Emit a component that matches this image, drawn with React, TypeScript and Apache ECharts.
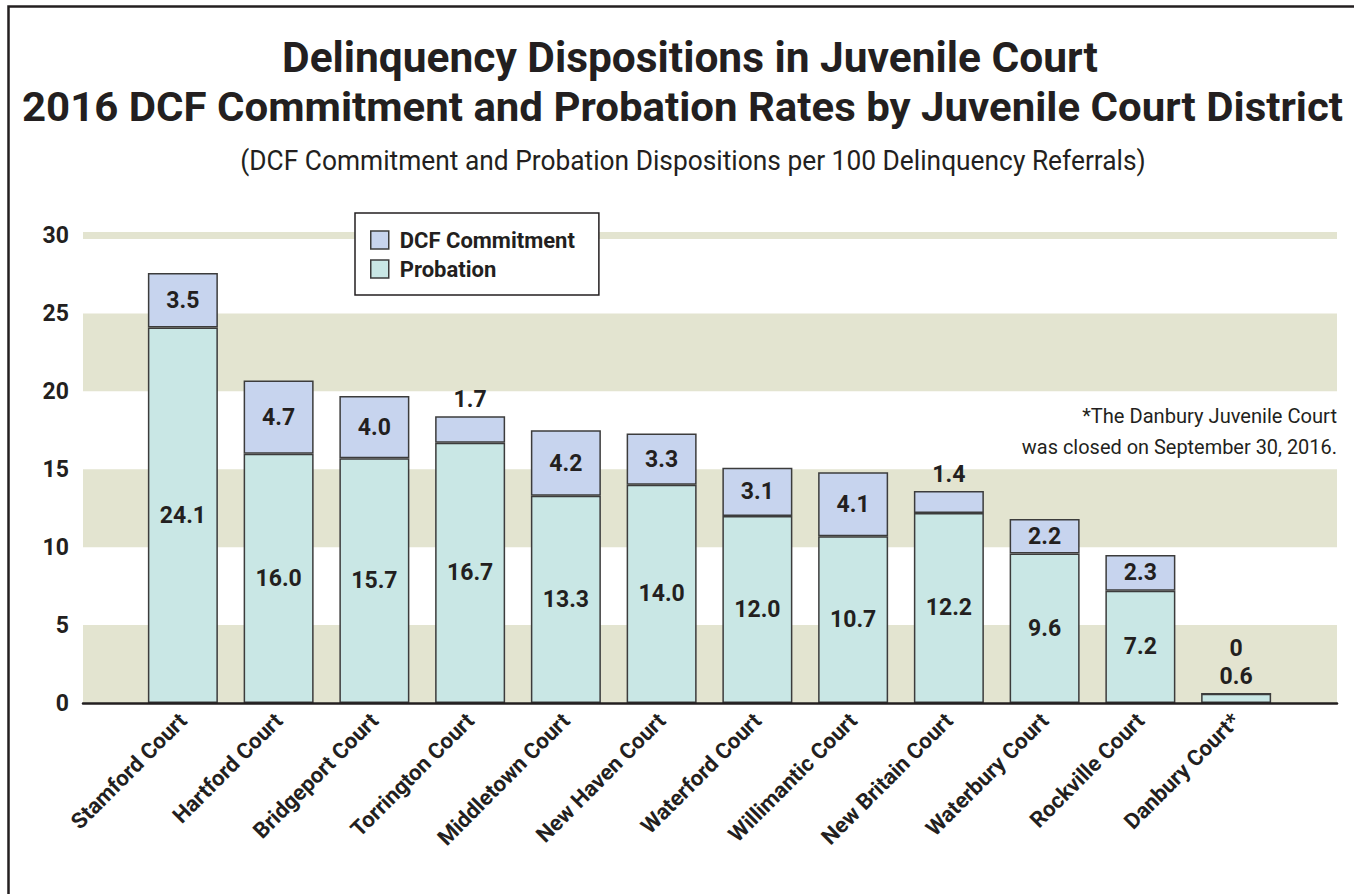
import React, { useEffect, useRef } from 'react';
import * as echarts from 'echarts';

const categories = [
  'Stamford Court', 'Hartford Court', 'Bridgeport Court', 'Torrington Court',
  'Middletown Court', 'New Haven Court', 'Waterford Court', 'Willimantic Court',
  'New Britain Court', 'Waterbury Court', 'Rockville Court', 'Danbury Court*',
];
const probation = [24.1, 16.0, 15.7, 16.7, 13.3, 14.0, 12.0, 10.7, 12.2, 9.6, 7.2, 0.6];
const dcfCommitment = [3.5, 4.7, 4.0, 1.7, 4.2, 3.3, 3.1, 4.1, 1.4, 2.2, 2.3, 0];
const seriesNames = ['DCF Commitment', 'Probation'];
const titleLine1 = 'Delinquency Dispositions in Juvenile Court';
const titleLine2 = '2016 DCF Commitment and Probation Rates by Juvenile Court District';
const subtitle = '(DCF Commitment and Probation Dispositions per 100 Delinquency Referrals)';
const noteLines = ['*The Danbury Juvenile Court', 'was closed on September 30, 2016.'];

const FONT = 'Roboto, "Noto Sans", sans-serif';
const TEXT = '#231f20';
const BAND = '#e3e4d0';
const DCF_COLOR = '#c7d4ee';
const PROB_COLOR = '#c9e7e5';
const EDGE = '#3c3c3c';

function fitScale(text: string, font: string, target: number): number {
  const ctx = document.createElement('canvas').getContext('2d');
  if (!ctx) return 1;
  ctx.font = font;
  const w = ctx.measureText(text).width;
  return w > 0 ? target / w : 1;
}

function fmt(p: any) {
  const v = Number(p.value);
  return v === 0 ? '0' : v.toFixed(1);
}

function textEl(text: string, font: string, x: number, y: number, align: string, target: number) {
  return {
    type: 'text',
    x,
    y,
    scaleX: fitScale(text, font, target),
    silent: true,
    style: {
      text,
      font,
      fill: TEXT,
      align,
      textAlign: align,
      verticalAlign: 'middle',
      textVerticalAlign: 'middle',
    },
  };
}

export default function App() {
  const ref = useRef<HTMLDivElement>(null);

  useEffect(() => {
    document.body.style.margin = '0';
    if (!ref.current) return;
    const chart = echarts.init(ref.current, null, { renderer: 'svg' });

    const probData = probation.map((v) => ({
      value: v,
      label: v < 2 ? { position: 'top', distance: 6 } : undefined,
    }));
    const dcfData = dcfCommitment.map((v) => ({
      value: v,
      label: v < 2 ? { position: 'top', distance: v === 0 ? 33 : 5 } : undefined,
    }));

    const labelStyle = {
      show: true,
      position: 'inside',
      formatter: fmt,
      fontSize: 23,
      fontWeight: 'bold',
      fontFamily: FONT,
      color: TEXT,
    };

    const t1Font = 'bold 42px Roboto';
    const t2Font = 'bold 41px Roboto';
    const subFont = '27px Roboto';
    const noteFont = '20px Roboto';

    const option: any = {
      animation: false,
      backgroundColor: '#ffffff',
      textStyle: { fontFamily: FONT },
      grid: [
        { left: 83, right: 17, top: 235.5, bottom: 191 },
        { left: 135, right: 70, top: 235.5, bottom: 191 },
      ],
      xAxis: [
        {
          gridIndex: 0, type: 'value', min: 0, max: 1, z: 5,
          axisLine: { show: true, onZero: false, lineStyle: { color: TEXT, width: 2.5 } },
          axisTick: { show: false }, axisLabel: { show: false }, splitLine: { show: false },
        },
        {
          gridIndex: 1, type: 'category', data: categories,
          axisLine: { show: false }, axisTick: { show: false },
          axisLabel: {
            rotate: 45, interval: 0, margin: 14, fontSize: 22, fontWeight: 'bold',
            color: TEXT, fontFamily: FONT,
          },
        },
      ],
      yAxis: [
        {
          gridIndex: 0, type: 'value', min: 0, max: 30, interval: 5,
          axisLine: { show: false }, axisTick: { show: false },
          axisLabel: { margin: 14, fontSize: 23, fontWeight: 'bold', color: TEXT, fontFamily: FONT },
          splitLine: {
            show: true,
            lineStyle: {
              color: ['rgba(0,0,0,0)', 'rgba(0,0,0,0)', 'rgba(0,0,0,0)', 'rgba(0,0,0,0)', 'rgba(0,0,0,0)', 'rgba(0,0,0,0)', BAND],
              width: 7,
            },
          },
          splitArea: { show: true, areaStyle: { color: [BAND, 'rgba(0,0,0,0)'] } },
        },
        { gridIndex: 1, type: 'value', min: 0, max: 30, interval: 5, show: false },
      ],
      legend: {
        data: seriesNames,
        orient: 'vertical',
        left: 355,
        top: 213,
        padding: [16, 24, 15, 15],
        itemGap: 7,
        itemWidth: 18,
        itemHeight: 18,
        icon: 'rect',
        backgroundColor: '#ffffff',
        borderColor: TEXT,
        borderWidth: 1.5,
        borderRadius: 0,
        selectedMode: false,
        itemStyle: { borderColor: EDGE, borderWidth: 1.5 },
        textStyle: { fontSize: 22, fontWeight: 'bold', color: TEXT, fontFamily: FONT, padding: [0, 0, 0, 6] },
      },
      series: [
        {
          name: seriesNames[1], type: 'bar', xAxisIndex: 1, yAxisIndex: 1, stack: 'total',
          barWidth: 70, data: probData,
          itemStyle: { color: PROB_COLOR, borderColor: EDGE, borderWidth: 1.5 },
          label: labelStyle,
        },
        {
          name: seriesNames[0], type: 'bar', xAxisIndex: 1, yAxisIndex: 1, stack: 'total',
          barWidth: 70, data: dcfData,
          itemStyle: { color: DCF_COLOR, borderColor: EDGE, borderWidth: 1.5 },
          label: labelStyle,
        },
      ],
      graphic: [
        {
          type: 'rect', silent: true,
          shape: { x: 8.5, y: 6.5, width: 1500, height: 1000 },
          style: { fill: 'none', stroke: TEXT, lineWidth: 2.5 },
        },
        textEl(titleLine1, t1Font, 690, 58, 'center', 816),
        textEl(titleLine2, t2Font, 682.5, 107.5, 'center', 1321),
        textEl(subtitle, subFont, 693, 161, 'center', 906),
        textEl(noteLines[0], noteFont, 1337, 416, 'right', 255),
        textEl(noteLines[1], noteFont, 1337, 447, 'right', 315),
      ],
    };

    chart.setOption(option);
    return () => chart.dispose();
  }, []);

  return <div ref={ref} style={{ width: 1354, height: 894 }} />;
}
